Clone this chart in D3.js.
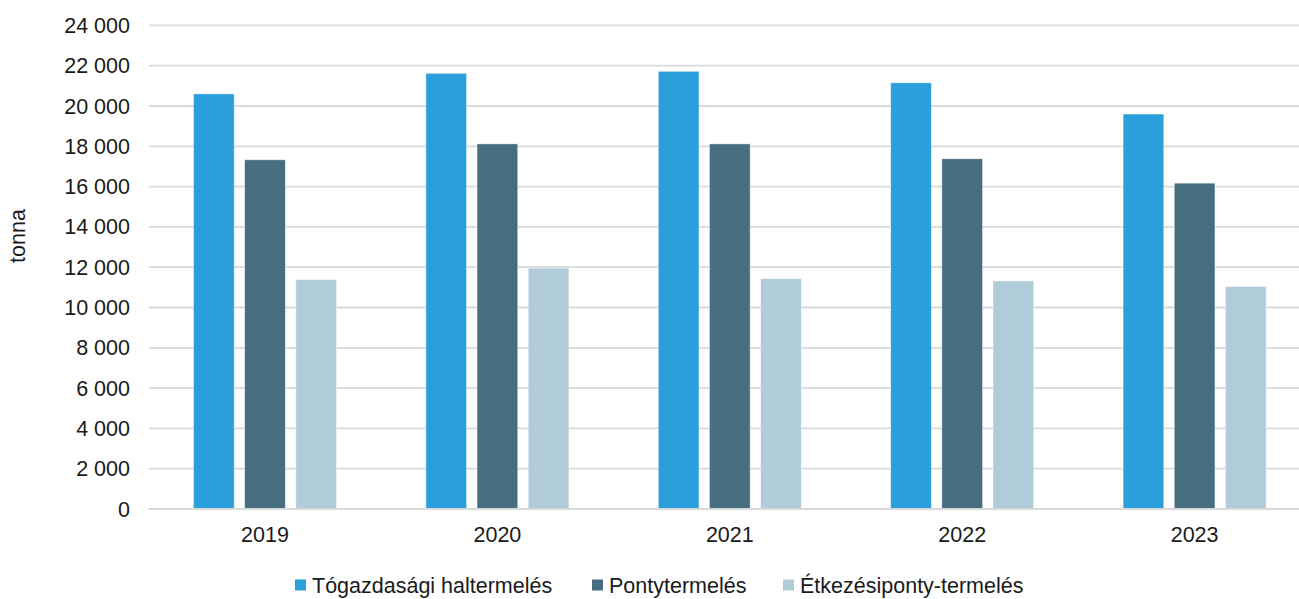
<!DOCTYPE html>
<html>
<head>
<meta charset="utf-8">
<script src="https://cdn.jsdelivr.net/npm/d3@7"></script>
<style>
  html, body { margin: 0; padding: 0; background: #fff; }
  svg { display: block; font-family: "Liberation Sans", Arial, sans-serif; }
</style>
</head>
<body>
<svg id="chart" width="1299" height="599"></svg>
<script>
const years = ["2019", "2020", "2021", "2022", "2023"];
const seriesNames = ["Tógazdasági haltermelés", "Pontytermelés", "Étkezésiponty-termelés"];
const togazdasagi = [20600, 21620, 21720, 21150, 19600];
const ponty = [17330, 18120, 18120, 17380, 16170];
const etkezesi = [11380, 11950, 11430, 11320, 11040];
const yTicks = [0, 2000, 4000, 6000, 8000, 10000, 12000, 14000, 16000, 18000, 20000, 22000, 24000];
const colors = ["#2A9FDB", "#466E80", "#AFCCD8"];

const seriesValues = [togazdasagi, ponty, etkezesi];

const svg = d3.select("#chart");
const margin = { left: 148.8, right: 1310.8, top: 25.4, bottom: 509 };
const FS = 21.5;

const x0 = d3.scaleBand().domain(years).range([margin.left, margin.right]).paddingInner(0).paddingOuter(0);
const groupW = 143;
const x1 = d3.scaleBand().domain(seriesNames).range([0, groupW]).paddingInner(0.205).paddingOuter(0);
const y = d3.scaleLinear().domain([0, 24000]).range([margin.bottom, margin.top]);

const fmt = v => d3.format(",")(v).replace(/,/g, " ");

// gridlines
svg.append("g").selectAll("line").data(yTicks.filter(t => t > 0)).join("line")
  .attr("x1", margin.left).attr("x2", margin.right)
  .attr("y1", d => y(d)).attr("y2", d => y(d))
  .attr("stroke", "#D9D9D9").attr("stroke-width", 1.8);

// y tick labels
svg.append("g").selectAll("text").data(yTicks).join("text")
  .attr("x", 130).attr("y", d => y(d))
  .attr("dy", "0.35em").attr("text-anchor", "end")
  .attr("font-size", FS).attr("fill", "#1a1a1a")
  .text(d => fmt(d));

// y axis title
svg.append("text")
  .attr("transform", "translate(25,236) rotate(-90)")
  .attr("text-anchor", "middle").attr("font-size", FS).attr("fill", "#1a1a1a")
  .text("tonna");

// bars
const groups = svg.append("g").selectAll("g").data(years).join("g")
  .attr("transform", d => `translate(${x0(d) + (x0.bandwidth() - groupW) / 2},0)`);
groups.selectAll("rect").data((d, i) => seriesNames.map((s, j) => ({ s, v: seriesValues[j][i], c: colors[j] }))).join("rect")
  .attr("x", d => x1(d.s)).attr("width", x1.bandwidth())
  .attr("y", d => y(d.v)).attr("height", d => y(0) - y(d.v))
  .attr("fill", d => d.c)
  .attr("stroke", "#ffffff").attr("stroke-opacity", 0.5).attr("stroke-width", 0.8);

// baseline
svg.append("line")
  .attr("x1", margin.left).attr("x2", margin.right)
  .attr("y1", y(0)).attr("y2", y(0))
  .attr("stroke", "#D9D9D9").attr("stroke-width", 1.8);

// x labels
svg.append("g").selectAll("text").data(years).join("text")
  .attr("x", d => x0(d) + x0.bandwidth() / 2).attr("y", 542)
  .attr("text-anchor", "middle").attr("font-size", FS).attr("fill", "#1a1a1a")
  .text(d => d);

// legend
const legendX = [295, 592, 783];
const leg = svg.append("g").selectAll("g").data(seriesNames).join("g")
  .attr("transform", (d, i) => `translate(${legendX[i]},585)`);
leg.append("rect").attr("x", 0).attr("y", -5.5).attr("width", 11).attr("height", 11)
  .attr("fill", (d, i) => colors[i]);
leg.append("text").attr("x", 17).attr("y", 0).attr("dy", "0.35em")
  .attr("font-size", FS).attr("fill", "#1a1a1a").text(d => d);
</script>
</body>
</html>
